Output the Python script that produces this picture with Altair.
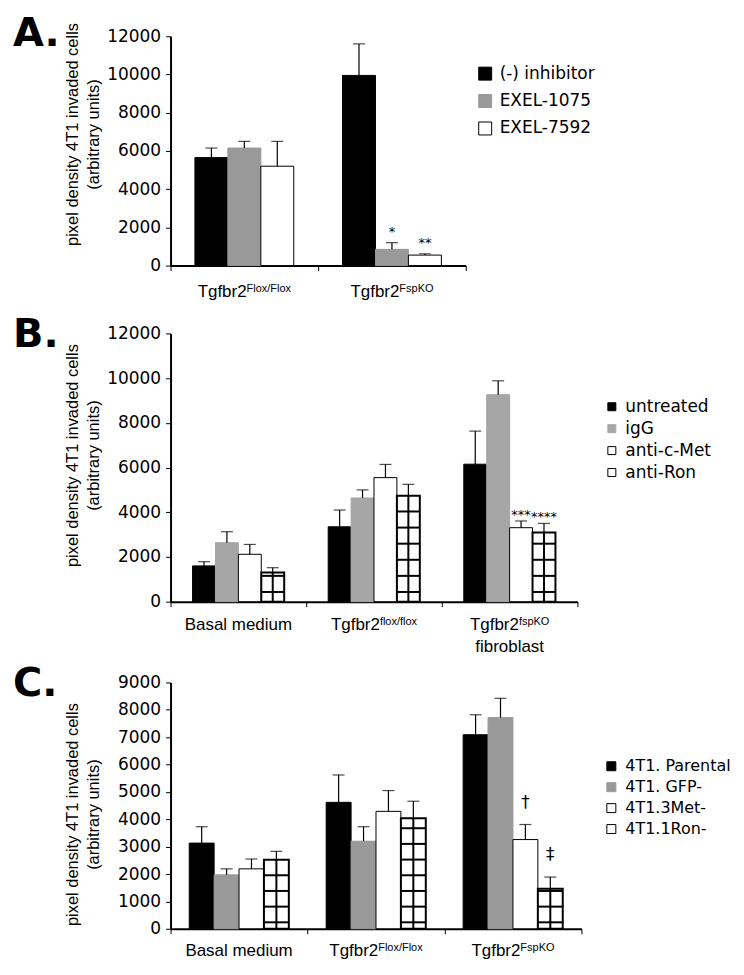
import altair as alt
import pandas as pd

# ---------------- data ----------------
PANEL_LETTERS = ["A.", "B.", "C."]
Y_TITLE = ["pixel density 4T1 invaded cells", "(arbitrary units)"]

A_categories = ["Tgfbr2 Flox/Flox", "Tgfbr2 FspKO"]
A_label_main = ["Tgfbr2", "Tgfbr2"]
A_label_sup = ["Flox/Flox", "FspKO"]
A_label_line2 = ["", ""]
A_series = ["(-) inhibitor", "EXEL-1075", "EXEL-7592"]
A_values = [[5650, 9950], [6150, 850], [5200, 550]]
A_upper = [[6150, 11600], [6500, 1200], [6500, 620]]
A_marks = [["", ""], ["", "*"], ["", "**"]]
A_yticks = [0, 2000, 4000, 6000, 8000, 10000, 12000]

B_categories = ["Basal medium", "Tgfbr2 flox/flox", "Tgfbr2 fspKO fibroblast"]
B_label_main = ["Basal medium", "Tgfbr2", "Tgfbr2"]
B_label_sup = ["", "flox/flox", "fspKO"]
B_label_line2 = ["", "", "fibroblast"]
B_series = ["untreated", "igG", "anti-c-Met", "anti-Ron"]
B_values = [[1600, 3350, 6150], [2640, 4640, 9260], [2120, 5550, 3310], [1300, 4740, 3100]]
B_upper = [[1790, 4100, 7630], [3130, 5000, 9880], [2560, 6140, 3610], [1520, 5250, 3500]]
B_marks = [["", "", ""], ["", "", ""], ["", "", "***"], ["", "", "****"]]
B_yticks = [0, 2000, 4000, 6000, 8000, 10000, 12000]

C_categories = ["Basal medium", "Tgfbr2 Flox/Flox", "Tgfbr2 FspKO"]
C_label_main = ["Basal medium", "Tgfbr2", "Tgfbr2"]
C_label_sup = ["", "Flox/Flox", "FspKO"]
C_label_line2 = ["", "", ""]
C_series = ["4T1. Parental", "4T1. GFP-", "4T1.3Met-", "4T1.1Ron-"]
C_values = [[3130, 4620, 7090], [1970, 3200, 7720], [2190, 4290, 3260], [2520, 4040, 1460]]
C_upper = [[3730, 5620, 7820], [2190, 3730, 8420], [2550, 5050, 3810], [2830, 4660, 1890]]
C_marks = [["", "", ""], ["", "", ""], ["", "", "\u2020"], ["", "", "\u2021"]]
C_yticks = [0, 1000, 2000, 3000, 4000, 5000, 6000, 7000, 8000, 9000]

# ---------------- helpers ----------------
ARIAL = {'T': .611, 'g': .556, 'f': .278, 'b': .556, 'r': .333, '2': .556, 'F': .611,
         'l': .222, 'o': .556, 'x': .5, '/': .278, 's': .5, 'p': .556, 'K': .667, 'O': .778}


def tw(s, size):
    return sum(ARIAL.get(ch, .55) for ch in s) * size


def long_df(cats, series, values, upper, marks):
    rows = []
    for si, s in enumerate(series):
        for ci, c in enumerate(cats):
            rows.append(dict(cat=c, series=s, value=values[si][ci],
                             upper=upper[si][ci], mark=marks[si][ci]))
    return pd.DataFrame(rows)


def panel(letter, cats, main, sup, line2, series, values, upper, marks, yticks,
          fills, strokes, hatched, width, height, top, bar_pad, leg, title_y,
          label_dy, letter_y, ann_size, ann_dy, hatch_start, hatch_step):
    df = long_df(cats, series, values, upper, marks)
    ymax = yticks[-1]
    xaxis = alt.Axis(labels=False, title=None, tickBand="extent", domainWidth=2,
                     domainColor="black", tickColor="black", tickSize=5, tickWidth=1)
    yaxis = alt.Axis(values=yticks, format="d", title=Y_TITLE, grid=False, domainColor="black",
                     domainWidth=2, tickColor="black", tickSize=5, tickWidth=1,
                     labelFont="DejaVu Sans", labelFontSize=17, labelColor="black",
                     labelPadding=5, titleFont="Liberation Sans", titleFontSize=16.5,
                     titleFontWeight="normal", titleColor="black", titleLineHeight=21,
                     titleAngle=270, titleX=-98, titleY=title_y, titleAlign="center",
                     titleBaseline="middle")
    yscale = alt.Scale(domain=[0, ymax], range=[height, top], nice=False, zero=True)

    def X():
        return alt.X("cat:N", sort=cats, scale=alt.Scale(paddingInner=0, paddingOuter=0), axis=xaxis)

    def XO():
        return alt.XOffset("series:N", sort=series,
                           scale=alt.Scale(paddingInner=0, paddingOuter=bar_pad))

    def Y(f):
        return alt.Y(f, scale=yscale, axis=yaxis)

    legend = alt.Legend(title=None, orient="none", legendX=leg["x"], legendY=leg["y"],
                        symbolType="square", symbolSize=leg["size"], symbolStrokeWidth=1,
                        labelFont="DejaVu Sans", labelFontSize=leg["font"], labelColor="black",
                        rowPadding=leg["rowpad"], labelOffset=leg["offset"], padding=0,
                        labelLimit=300)
    base = alt.Chart(df)
    if hatched:
        sw = alt.condition(alt.datum.series == hatched, alt.value(2), alt.value(1))
    else:
        sw = alt.value(1)
    bars = base.mark_bar().encode(
        x=X(), xOffset=XO(), y=Y("value:Q"),
        fill=alt.Fill("series:N", sort=series, scale=alt.Scale(domain=series, range=fills), legend=legend),
        stroke=alt.Stroke("series:N", sort=series, scale=alt.Scale(domain=series, range=strokes), legend=legend),
        strokeWidth=sw,
    )
    layers = [bars]
    if hatched:
        thick = 2.0 * ymax / (height - top)
        hl = (base.transform_filter(alt.datum.series == hatched)
              .transform_calculate(hl=f"sequence({hatch_start}, datum.value - {thick}, {hatch_step})")
              .transform_flatten(["hl"])
              .transform_calculate(hl2=f"datum.hl + {thick}")
              .mark_bar(color="black")
              .encode(x=X(), xOffset=XO(), y=Y("hl:Q"), y2="hl2:Q"))
        vl = (base.transform_filter(alt.datum.series == hatched)
              .mark_rule(color="black", strokeWidth=2)
              .encode(x=X(), xOffset=XO(), y=Y("value:Q"), y2=alt.datum(0)))
        layers += [hl, vl]
    err = base.mark_rule(color="black", strokeWidth=1.2).encode(
        x=X(), xOffset=XO(), y=Y("value:Q"), y2="upper:Q")
    cap = base.mark_tick(color="black", thickness=1.2, size=12, orient="horizontal").encode(
        x=X(), xOffset=XO(), y=Y("upper:Q"))
    ann = base.transform_filter(alt.datum.mark != "").mark_text(
        font="DejaVu Sans", fontSize=ann_size, baseline="alphabetic", dy=ann_dy, color="black"
    ).encode(x=X(), xOffset=XO(), y=Y("upper:Q"), text="mark:N")
    layers += [err, cap, ann]

    ldf = pd.DataFrame({"cat": cats, "main": main, "sup": sup, "line2": line2})
    lbase = alt.Chart(ldf)
    for i, c in enumerate(cats):
        sel = lbase.transform_filter(alt.datum.cat == c)
        if sup[i]:
            j = (tw(main[i], 17) - tw(sup[i], 11)) / 2
            layers.append(sel.mark_text(align="right", dx=j, baseline="alphabetic", font="Liberation Sans",
                                        fontSize=17, color="black")
                          .encode(x=X(), y=alt.value(height + label_dy), text="main:N"))
            layers.append(sel.mark_text(align="left", dx=j, baseline="alphabetic", font="Liberation Sans",
                                        fontSize=11, color="black")
                          .encode(x=X(), y=alt.value(height + label_dy - 5), text="sup:N"))
        else:
            layers.append(sel.mark_text(align="center", baseline="alphabetic", font="Liberation Sans",
                                        fontSize=17, color="black")
                          .encode(x=X(), y=alt.value(height + label_dy), text="main:N"))
        if line2[i]:
            layers.append(sel.mark_text(align="center", baseline="alphabetic", font="Liberation Sans",
                                        fontSize=17, color="black")
                          .encode(x=X(), y=alt.value(height + label_dy + 22), text="line2:N"))

    let = alt.Chart(pd.DataFrame({"t": [letter]})).mark_text(
        align="left", baseline="alphabetic", font="DejaVu Sans", fontWeight="bold",
        fontSize=40, color="black").encode(x=alt.value(-158), y=alt.value(letter_y), text="t:N")
    layers.append(let)
    return alt.layer(*layers).properties(width=width, height=height)


pA = panel(PANEL_LETTERS[0], A_categories, A_label_main, A_label_sup, A_label_line2, A_series,
           A_values, A_upper, A_marks, A_yticks,
           ["black", "#999999", "white"], ["black", "#999999", "black"], None,
           296, 230, 0, 0.74,
           dict(x=307, y=29, size=169, font=17, rowpad=9.5, offset=6), 98,
           31, 10, 13, -7, 0, 1)
pB = panel(PANEL_LETTERS[1], B_categories, B_label_main, B_label_sup, B_label_line2, B_series,
           B_values, B_upper, B_marks, B_yticks,
           ["black", "#a6a6a6", "white", "white"], ["black", "#a6a6a6", "black", "black"], "anti-Ron",
           408, 337, 68, 0.96,
           dict(x=434, y=133, size=64, font=17, rowpad=4, offset=5), 190,
           28, 82, 13, -2, 390, 720)
pC = panel(PANEL_LETTERS[2], C_categories, C_label_main, C_label_sup, C_label_line2, C_series,
           C_values, C_upper, C_marks, C_yticks,
           ["black", "#999999", "white", "white"], ["black", "#999999", "black", "black"], "4T1.1Ron-",
           412, 328, 81, 0.75,
           dict(x=434, y=157, size=81, font=16, rowpad=5, offset=6), 213,
           27, 95, 17, -17, 200, 573)

chart = alt.vconcat(pA, pB, pC, spacing=0, bounds="flush").resolve_scale(
    x="independent", y="independent", xOffset="independent",
    fill="independent", stroke="independent"
).resolve_legend(fill="independent", stroke="independent").configure_view(stroke=None).properties(
    padding=5, background="white")

chart.save("out.html", embed_options={"renderer": "svg", "actions": False})
